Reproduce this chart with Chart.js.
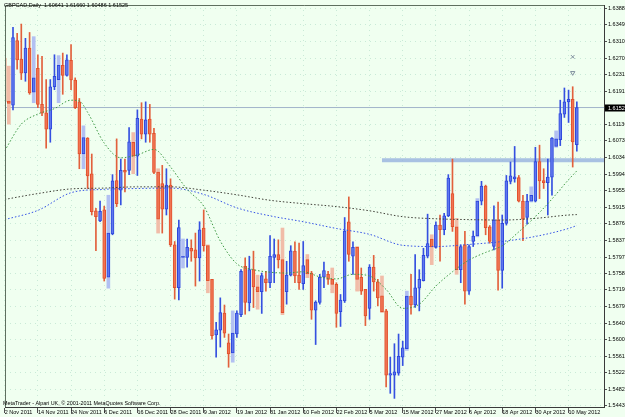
<!DOCTYPE html>
<html>
<head>
<meta charset="utf-8">
<title>GBPCAD Daily</title>
<script src="https://cdn.jsdelivr.net/npm/chart.js@4.4.0/dist/chart.umd.min.js"></script>
<style>
  html, body { margin: 0; padding: 0; background: #f0fff0; }
  #wrap { width: 625px; height: 417px; }
</style>
</head>
<body>
<div id="wrap"><canvas id="myChart" width="625" height="417"></canvas></div>
<script>
// GBPCAD daily bars, 2 Nov 2011 .. 14 May 2012 (one per weekday)
const opens = [
  1.6270, 1.6168, 1.6158, 1.6312, 1.6268, 1.6235, 1.6294, 1.6189, 1.6246, 1.6160,
  1.6140, 1.6101, 1.6202, 1.6219, 1.6253, 1.6229, 1.6265, 1.6218, 1.6166, 1.6042,
  1.6080, 1.5995, 1.5907, 1.5883, 1.5909, 1.5749, 1.5852, 1.5979, 1.5956, 1.6003,
  1.6003, 1.6070, 1.6037, 1.6125, 1.6089, 1.6125, 1.6091, 1.5999, 1.5972, 1.5911,
  1.5968, 1.5826, 1.5724, 1.5796, 1.5796, 1.5818, 1.5814, 1.5795, 1.5866, 1.5824,
  1.5744, 1.5612, 1.5623, 1.5664, 1.5593, 1.5569, 1.5614, 1.5660, 1.5775, 1.5688,
  1.5767, 1.5726, 1.5715, 1.5745, 1.5736, 1.5796, 1.5803, 1.5791, 1.5715, 1.5754,
  1.5811, 1.5754, 1.5734, 1.5791, 1.5759, 1.5671, 1.5689, 1.5749, 1.5756, 1.5744,
  1.5732, 1.5667, 1.5693, 1.5881, 1.5799, 1.5820, 1.5749, 1.5720, 1.5675, 1.5773,
  1.5738, 1.5705, 1.5669, 1.5516, 1.5516, 1.5521, 1.5559, 1.5579, 1.5704, 1.5683,
  1.5723, 1.5741, 1.5799, 1.5840, 1.5820, 1.5873, 1.5862, 1.5895, 1.5948, 1.5869,
  1.5767, 1.5826, 1.5716, 1.5834, 1.5847, 1.5930, 1.5966, 1.5869, 1.5822, 1.5885,
  1.5765, 1.5877, 1.5977, 1.5983, 1.5986, 1.5930, 1.5891, 1.5930, 1.5930, 1.6024,
  1.5979, 1.5974, 1.5987, 1.6060, 1.6076, 1.6137, 1.6166, 1.6172, 1.60641
];
const highs = [
  1.6321, 1.6251, 1.6343, 1.6329, 1.6351, 1.6317, 1.6331, 1.6321, 1.6278, 1.6274,
  1.6219, 1.6219, 1.6278, 1.6276, 1.6282, 1.6278, 1.6302, 1.6223, 1.6174, 1.6109,
  1.6081, 1.6042, 1.5913, 1.5930, 1.5918, 1.5944, 1.5993, 1.6078, 1.6030, 1.6030,
  1.6105, 1.6093, 1.6147, 1.6164, 1.6166, 1.6160, 1.6103, 1.6007, 1.6015, 1.6007,
  1.5983, 1.5834, 1.5885, 1.5840, 1.5840, 1.5838, 1.5854, 1.5881, 1.5909, 1.5826,
  1.5744, 1.5642, 1.5700, 1.5683, 1.5614, 1.5669, 1.5669, 1.5767, 1.5795, 1.5799,
  1.5811, 1.5754, 1.5759, 1.5763, 1.5848, 1.5840, 1.5838, 1.5866, 1.5787, 1.5824,
  1.5833, 1.5830, 1.5834, 1.5803, 1.5763, 1.5693, 1.5756, 1.5785, 1.5763, 1.5771,
  1.5736, 1.5708, 1.5891, 1.5940, 1.5833, 1.5822, 1.5771, 1.5720, 1.5779, 1.5801,
  1.5744, 1.5752, 1.5673, 1.5559, 1.5591, 1.5614, 1.5597, 1.5716, 1.5756, 1.5803,
  1.5767, 1.5818, 1.5899, 1.5850, 1.5881, 1.5897, 1.5901, 1.5993, 1.6030, 1.5889,
  1.5826, 1.5858, 1.5826, 1.5859, 1.5936, 1.5977, 1.5968, 1.5872, 1.5919, 1.5928,
  1.5897, 1.5991, 1.6023, 1.6060, 1.5991, 1.5944, 1.5946, 1.5964, 1.6058, 1.6063,
  1.6007, 1.6030, 1.6081, 1.6097, 1.6170, 1.6199, 1.6194, 1.6202, 1.61660
];
const lows = [
  1.6144, 1.6113, 1.6147, 1.6244, 1.6219, 1.6215, 1.6184, 1.6164, 1.6152, 1.6133,
  1.6056, 1.6070, 1.6195, 1.6164, 1.6184, 1.6227, 1.6195, 1.6150, 1.6007, 1.6007,
  1.5960, 1.5897, 1.5812, 1.5881, 1.5740, 1.5723, 1.5850, 1.5917, 1.5921, 1.5952,
  1.5993, 1.5995, 1.5991, 1.6078, 1.6070, 1.6070, 1.5995, 1.5854, 1.5854, 1.5897,
  1.5822, 1.5697, 1.5695, 1.5771, 1.5773, 1.5787, 1.5728, 1.5740, 1.5811, 1.5712,
  1.5602, 1.5559, 1.5583, 1.5606, 1.5535, 1.5547, 1.5606, 1.5655, 1.5661, 1.5669,
  1.5677, 1.5673, 1.5663, 1.5716, 1.5724, 1.5736, 1.5771, 1.5660, 1.5685, 1.5752,
  1.5736, 1.5720, 1.5720, 1.5748, 1.5649, 1.5589, 1.5685, 1.5724, 1.5732, 1.5712,
  1.5630, 1.5632, 1.5689, 1.5787, 1.5756, 1.5716, 1.5708, 1.5634, 1.5649, 1.5716,
  1.5681, 1.5665, 1.5488, 1.5473, 1.5461, 1.5516, 1.5539, 1.5575, 1.5661, 1.5677,
  1.5669, 1.5740, 1.5795, 1.5779, 1.5818, 1.5787, 1.5850, 1.5893, 1.5858, 1.5756,
  1.5736, 1.5685, 1.5708, 1.5822, 1.5845, 1.5921, 1.5850, 1.5830, 1.5814, 1.5718,
  1.5723, 1.5873, 1.5971, 1.5975, 1.5928, 1.5836, 1.5875, 1.5928, 1.5928, 1.5936,
  1.5960, 1.5897, 1.5944, 1.6058, 1.6062, 1.6129, 1.6117, 1.6011, 1.60486
];
const closes = [
  1.6166, 1.6162, 1.6319, 1.6266, 1.6234, 1.6294, 1.6187, 1.6223, 1.6160, 1.6139,
  1.6101, 1.6202, 1.6227, 1.6253, 1.6229, 1.6266, 1.6218, 1.6152, 1.6042, 1.6081,
  1.5990, 1.5905, 1.5893, 1.5906, 1.5746, 1.5854, 1.5978, 1.5924, 1.6003, 1.5999,
  1.6071, 1.6037, 1.6127, 1.6089, 1.6123, 1.6089, 1.5998, 1.5887, 1.5911, 1.5968,
  1.5826, 1.5724, 1.5867, 1.5799, 1.5820, 1.5811, 1.5795, 1.5862, 1.5824, 1.5741,
  1.5610, 1.5624, 1.5665, 1.5616, 1.5567, 1.5616, 1.5664, 1.5763, 1.5689, 1.5767,
  1.5726, 1.5715, 1.5753, 1.5736, 1.5799, 1.5803, 1.5790, 1.5665, 1.5754, 1.5812,
  1.5752, 1.5736, 1.5777, 1.5757, 1.5671, 1.5690, 1.5749, 1.5765, 1.5744, 1.5732,
  1.5663, 1.5695, 1.5859, 1.5803, 1.5820, 1.5744, 1.5716, 1.5657, 1.5773, 1.5738,
  1.5700, 1.5667, 1.5516, 1.5520, 1.5524, 1.5561, 1.5581, 1.5704, 1.5683, 1.5724,
  1.5744, 1.5801, 1.5829, 1.5821, 1.5873, 1.5862, 1.5895, 1.5985, 1.5869, 1.5767,
  1.5822, 1.5716, 1.5822, 1.5847, 1.5930, 1.5966, 1.5867, 1.5834, 1.5885, 1.5765,
  1.5877, 1.5978, 1.5990, 1.5988, 1.5930, 1.5887, 1.5930, 1.5944, 1.6024, 1.5978,
  1.5974, 1.5987, 1.6080, 1.6078, 1.6138, 1.6166, 1.6172, 1.6071, 1.61525
];

// date labels along the bottom (bar index -> text)
const dateTickIdx = [0, 8, 16, 24, 32, 40, 48, 56, 64, 72, 80, 88, 96, 104, 112, 120, 128, 136];
const dateTickLabels = [
  '2 Nov 2011', '14 Nov 2011', '24 Nov 2011', '6 Dec 2011', '16 Dec 2011', '28 Dec 2011',
  '9 Jan 2012', '19 Jan 2012', '31 Jan 2012', '10 Feb 2012', '22 Feb 2012', '5 Mar 2012',
  '15 Mar 2012', '27 Mar 2012', '6 Apr 2012', '18 Apr 2012', '30 Apr 2012', '10 May 2012'
];

// price scale labels on the right
const priceTicks = [
  1.63880, 1.63490, 1.63100, 1.62700, 1.62310, 1.61910, 1.61130, 1.60730, 1.60340,
  1.59940, 1.59550, 1.59150, 1.58760, 1.58370, 1.57970, 1.57580, 1.57190, 1.56790,
  1.56400, 1.56000, 1.55610, 1.55220, 1.54820, 1.54430
];

// moving averages
const fastMaIdx = [0, 4, 8, 12, 16, 18, 20, 24, 28, 32, 36, 40, 44, 48, 52, 56, 60, 64, 68,
  72, 76, 80, 84, 88, 92, 96, 100, 104, 108, 112, 116, 120, 124, 128, 132, 136, 138];
const fastMa = [1.6050, 1.6113, 1.6137, 1.6150, 1.6170, 1.6168, 1.6141, 1.6068, 1.6033,
  1.6040, 1.6053, 1.6011, 1.5958, 1.5918, 1.5835, 1.5781, 1.5767, 1.5761, 1.5759, 1.5762,
  1.5750, 1.5745, 1.5756, 1.5752, 1.5720, 1.5675, 1.5685, 1.5728, 1.5762, 1.5790, 1.5808,
  1.5824, 1.5857, 1.5893, 1.5935, 1.5981, 1.6002];

const slowMaIdx = [0, 8, 16, 24, 32, 40, 48, 56, 64, 72, 80, 88, 96, 104, 112, 120, 128, 136, 138];
const slowMa = [1.5934, 1.5948, 1.5959, 1.5961, 1.5964, 1.5964, 1.5956, 1.5945, 1.5932,
  1.5924, 1.5917, 1.5907, 1.5893, 1.5888, 1.5886, 1.5885, 1.5889, 1.5897, 1.5898];
const midMa = [1.5886, 1.5908, 1.5950, 1.5958, 1.5960, 1.5961, 1.5946, 1.5914, 1.5895,
  1.5881, 1.5865, 1.5851, 1.5825, 1.5822, 1.5827, 1.5834, 1.5846, 1.5865, 1.5872];

// horizontal support line drawn from bar 91 to the right edge
const supportLevel = 1.6027;
const supportFrom = 91;

// two small objects above the last bars
const markerIdx = [137, 137];
const markerPrice = [1.6273, 1.6235];

// ---------------------------------------------------------------
const last = closes.length - 1;
const xMin = 0.07, xMax = 144.55;

// bars that came out washed-out in the screenshot
const softBars = [1, 7, 13, 19, 25, 31, 37, 43, 49, 55, 61, 67, 73, 79, 85, 91, 97, 103, 109, 114, 127, 133];

const isUp = (i) => closes[i] >= opens[i];

const bodies = opens.map((o, i) => ({ x: i, y: [o, closes[i]] }));
const wicks = lows.map((l, i) => ({ x: i, y: [l, highs[i]] }));
const softWicks = softBars.map(i => ({ x: i, y: [lows[i], highs[i]] }));

const gridCol = 'rgba(130,195,170,0.35)';
const fontFam = '"Liberation Sans", Arial, sans-serif';
const tickFont = { family: fontFam, size: 5.5 };

const framePlugin = {
  id: 'frame',
  beforeDraw(chart) {
    const ctx = chart.ctx;
    ctx.save();
    ctx.fillStyle = '#f0fff0';
    ctx.fillRect(0, 0, chart.width, chart.height);
    ctx.restore();
  },
  afterDraw(chart) {
    const ctx = chart.ctx;
    const a = chart.chartArea;
    ctx.save();
    ctx.strokeStyle = '#5f6f5f';
    ctx.lineWidth = 1;
    ctx.beginPath();
    ctx.moveTo(a.left + 0.5, a.bottom);
    ctx.lineTo(a.left + 0.5, a.top + 0.5);
    ctx.lineTo(a.right, a.top + 0.5);
    ctx.stroke();

    ctx.font = '5.5px ' + fontFam;
    ctx.textBaseline = 'middle';
    ctx.fillStyle = '#000';
    const t = 'GBPCAD,Daily  ' + opens[last].toFixed(5) + ' ' + highs[last].toFixed(5) + ' ' +
      lows[last].toFixed(5) + ' ' + closes[last].toFixed(5);
    ctx.fillText(t, 4, 5);
    ctx.font = '5.4px ' + fontFam;
    ctx.fillText('MetaTrader - Alpari UK, \u00a9 2001-2011 MetaQuotes Software Corp.', 3, 404);

    // current price box on the right scale
    const y = Math.round(chart.scales.y.getPixelForValue(closes[last]));
    ctx.fillStyle = '#000';
    ctx.fillRect(a.right + 1, y - 3.5, 21, 7);
    ctx.fillStyle = '#fff';
    ctx.font = '5.5px ' + fontFam;
    ctx.fillText(closes[last].toFixed(5), a.right + 4, y);
    ctx.restore();
  }
};

const config = {
  type: 'bar',
  data: {
    datasets: [
      {
        label: 'body',
        data: bodies,
        order: 1,
        grouped: false,
        barThickness: 3,
        minBarLength: 1,
        borderWidth: 1,
        borderSkipped: false,
        backgroundColor: (c) => isUp(c.dataIndex) ? '#5f78ee' : '#f07452',
        borderColor: (c) => isUp(c.dataIndex) ? '#2d46dc' : '#e2502c'
      },
      {
        label: 'wick',
        data: wicks,
        order: 2,
        grouped: false,
        barThickness: 1,
        backgroundColor: (c) => softBars.includes(c.dataIndex) ? 'rgba(0,0,0,0)' :
          (isUp(c.dataIndex) ? '#3550e0' : '#e2603c')
      },
      {
        label: 'softwick',
        data: softWicks,
        order: 3,
        grouped: false,
        barThickness: 3,
        backgroundColor: (c) => isUp(c.raw.x) ? '#b2c0f2' : '#f1bca8'
      },
      {
        type: 'line',
        label: 'support',
        data: [{ x: supportFrom, y: supportLevel }, { x: xMax, y: supportLevel }],
        order: 4,
        borderColor: 'rgba(150,178,222,0.8)',
        borderWidth: 4,
        pointRadius: 0
      },
      {
        type: 'line',
        label: 'price',
        data: [{ x: xMin, y: closes[last] }, { x: xMax, y: closes[last] }],
        order: 5,
        borderColor: '#a2b4ca',
        borderWidth: 1,
        pointRadius: 0
      },
      {
        type: 'line',
        label: 'ma fast',
        data: fastMaIdx.map((x, k) => ({ x: x, y: fastMa[k] })),
        order: 0,
        borderColor: '#3f9a45',
        borderWidth: 1,
        borderDash: [1.5, 2],
        pointRadius: 0,
        cubicInterpolationMode: 'monotone'
      },
      {
        type: 'line',
        label: 'ma slow',
        data: slowMaIdx.map((x, k) => ({ x: x, y: slowMa[k] })),
        order: 0,
        borderColor: '#404038',
        borderWidth: 1,
        borderDash: [1.5, 2],
        pointRadius: 0,
        cubicInterpolationMode: 'monotone'
      },
      {
        type: 'line',
        label: 'ma mid',
        data: slowMaIdx.map((x, k) => ({ x: x, y: midMa[k] })),
        order: 0,
        borderColor: '#3452e6',
        borderWidth: 1,
        borderDash: [1.5, 2],
        pointRadius: 0,
        cubicInterpolationMode: 'monotone'
      },
      {
        type: 'line',
        label: 'marks',
        data: markerIdx.map((x, k) => ({ x: x, y: markerPrice[k] })),
        order: 0,
        showLine: false,
        pointStyle: ['crossRot', 'triangle'],
        rotation: [0, 180],
        pointRadius: 2.5,
        pointBorderWidth: 1,
        pointBorderColor: '#7d8c9c',
        pointBackgroundColor: 'rgba(0,0,0,0)'
      }
    ]
  },
  options: {
    responsive: false,
    devicePixelRatio: 1,
    animation: false,
    events: [],
    layout: { padding: { left: 2, top: 1, right: 0, bottom: 0 } },
    plugins: { legend: { display: false }, tooltip: { enabled: false } },
    scales: {
      x: {
        type: 'linear',
        position: 'bottom',
        offset: false,
        min: xMin,
        max: xMax,
        afterBuildTicks: (s) => { s.ticks = dateTickIdx.map(v => ({ value: v })); },
        afterFit: (s) => { s.height = 10; },
        ticks: {
          autoSkip: false,
          maxRotation: 0,
          align: 'start',
          padding: -4,
          color: '#000',
          font: tickFont,
          callback: (v) => dateTickLabels[dateTickIdx.indexOf(v)]
        },
        grid: { offset: false, color: gridCol, tickLength: 6, tickColor: '#505050' },
        border: { color: '#3a3a3a', dash: [1, 4] }
      },
      y: {
        type: 'linear',
        position: 'right',
        min: 1.54405,
        max: 1.63963,
        afterBuildTicks: (s) => { s.ticks = priceTicks.map(v => ({ value: v })); },
        afterFit: (s) => { s.width = 21; },
        ticks: {
          padding: 1,
          color: '#000',
          font: tickFont,
          callback: (v) => Number(v).toFixed(5)
        },
        grid: { color: gridCol, tickLength: 3, tickColor: '#505050' },
        border: { color: '#3a3a3a', dash: [1, 4] }
      }
    }
  },
  plugins: [framePlugin]
};

var myChart = new Chart(document.getElementById('myChart'), config);
</script>
</body>
</html>
